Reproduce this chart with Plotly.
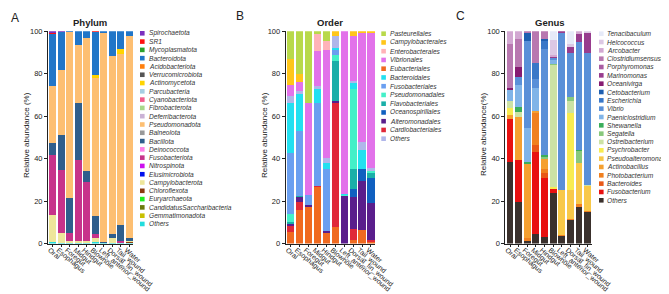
import plotly.graph_objects as go

W, H = 669, 294

categories = ["Oral", "Esophagus", "Foregut", "Midgut", "Hindgut", "Blowhole",
              "Left_anterior_wound", "Dorsal_fin_wound", "Tail_wound", "Water"]
y_ticks = [0, 20, 40, 60, 80, 100]

# ---------------- Panel A: Phylum (values bottom -> top) ----------------
phy_Others = [0.8, 0.3, 0.2, 0.2, 0.2, 0.8, 0.1, 0.3, 0.1, 0.2]
phy_Gemmatimonadota = [0, 0, 0, 0, 0, 0, 0, 0, 0, 0]
phy_CandidatusSaccharibacteria = [0, 0, 0, 0, 0, 0, 0, 0, 0, 0]
phy_Euryarchaeota = [0, 0, 0, 0, 0, 0, 0, 0, 0, 0]
phy_Chloroflexota = [0, 0, 0, 0, 0, 0, 0, 0, 0, 0.8]
phy_Campylobacterota = [12.5, 4.5, 0.8, 0.8, 0.8, 1.7, 0.3, 2.2, 0.2, 0.3]
phy_Elusimicrobiota = [0, 0, 0, 0, 0, 0, 0, 0, 0, 0]
phy_Nitrospinota = [0, 0, 0, 0, 0, 0, 0, 0, 0, 0]
phy_Fusobacteriota = [28.5, 30, 4, 38.5, 28, 2, 0, 0, 1, 0]
phy_Deinococcota = [0, 0, 0, 0, 0, 0, 0, 0, 0, 0]
phy_Bacillota = [5.5, 16.5, 16.5, 26.5, 5, 8.5, 0.5, 2, 7.2, 1.2]
phy_Balneolota = [0, 0, 0, 0, 0, 0, 0, 0, 0, 0]
phy_Pseudomonadota = [26.7, 30.5, 78.1, 27.5, 63, 65, 98.6, 84, 81, 95.5]
phy_Deferribacterota = [0, 0, 0, 0, 0, 0, 0, 0, 0, 0]
phy_Fibrobacterota = [0, 0, 0, 0, 0, 0, 0, 0, 0, 0]
phy_Cyanobacteriota = [0, 0, 0, 0, 0, 0, 0, 0, 0, 0]
phy_Parcubacteria = [0, 0, 0, 0, 0, 0, 0, 0, 0, 0]
phy_Actinomycetota = [0, 0, 0, 0, 0, 1.5, 0, 0, 2, 0]
phy_Verrucomicrobiota = [0, 0, 0, 0, 0, 0, 0, 0, 0, 0]
phy_Acidobacteriota = [0, 0, 0, 0, 0, 0, 0, 0, 0, 0]
phy_Bacteroidota = [25, 17.9, 0.4, 6.5, 3, 20.1, 0.5, 11.5, 8.5, 2]
phy_Mycoplasmatota = [0, 0, 0, 0, 0, 0, 0, 0, 0, 0]
phy_SR1 = [0.3, 0, 0, 0, 0, 0.4, 0, 0, 0, 0]
phy_Spirochaetota = [0.7, 0.3, 0, 0, 0, 0, 0, 0, 0, 0]

phylum_stack = [
    ("Others", phy_Others), ("Gemmatimonadota", phy_Gemmatimonadota),
    ("CandidatusSaccharibacteria", phy_CandidatusSaccharibacteria),
    ("Euryarchaeota", phy_Euryarchaeota), ("Chloroflexota", phy_Chloroflexota),
    ("Campylobacterota", phy_Campylobacterota), ("Elusimicrobiota", phy_Elusimicrobiota),
    ("Nitrospinota", phy_Nitrospinota), ("Fusobacteriota", phy_Fusobacteriota),
    ("Deinococcota", phy_Deinococcota), ("Bacillota", phy_Bacillota),
    ("Balneolota", phy_Balneolota), ("Pseudomonadota", phy_Pseudomonadota),
    ("Deferribacterota", phy_Deferribacterota), ("Fibrobacterota", phy_Fibrobacterota),
    ("Cyanobacteriota", phy_Cyanobacteriota), ("Parcubacteria", phy_Parcubacteria),
    ("Actinomycetota", phy_Actinomycetota), ("Verrucomicrobiota", phy_Verrucomicrobiota),
    ("Acidobacteriota", phy_Acidobacteriota), ("Bacteroidota", phy_Bacteroidota),
    ("Mycoplasmatota", phy_Mycoplasmatota), ("SR1", phy_SR1),
    ("Spirochaetota", phy_Spirochaetota),
]
phylum_legend = [n for n, _ in phylum_stack][::-1]
phylum_colors = {
    "Spirochaetota": "#7B2FBE", "SR1": "#FF1010", "Mycoplasmatota": "#2CA02C",
    "Bacteroidota": "#2176C8", "Acidobacteriota": "#FF7F0E", "Verrucomicrobiota": "#555555",
    "Actinomycetota": "#FFD400", "Parcubacteria": "#A6CEE3", "Cyanobacteriota": "#F25C8C",
    "Fibrobacterota": "#A8D88A", "Deferribacterota": "#CAB2D6", "Pseudomonadota": "#FDBF72",
    "Balneolota": "#999999", "Bacillota": "#2F5E8C", "Deinococcota": "#FF80E8",
    "Fusobacteriota": "#C7338A", "Nitrospinota": "#CC10EE", "Elusimicrobiota": "#0010EE",
    "Campylobacterota": "#EEE69A", "Chloroflexota": "#8B3A0F", "Euryarchaeota": "#22EE22",
    "CandidatusSaccharibacteria": "#6B7A0A", "Gemmatimonadota": "#C8C000", "Others": "#22DDDD",
}

# ---------------- Panel B: Order ----------------
ord_Eubacteriales = [5.5, 16, 17, 26.5, 4.8, 8, 0, 1.5, 6.5, 1]
ord_Cardiobacteriales = [3, 3.5, 0, 0.5, 0, 58.5, 0, 5.5, 0, 0.5]
ord_Alteromonadales = [0.5, 2.5, 1, 0, 1.2, 0.5, 22.5, 15, 23, 17.5]
ord_Oceanospirillales = [0, 0, 0, 0, 0, 0, 0, 3.5, 5.5, 12]
ord_Flavobacteriales = [1, 0.5, 0, 0, 0, 19, 0, 9.5, 0, 2]
ord_Pseudomonadales = [4, 0, 0, 0, 0, 3, 0.5, 38, 0, 1]
ord_Fusobacteriales = [28.5, 30.5, 5, 39, 29, 2, 0, 0, 0, 0]
ord_Bacteroidales = [23.5, 17.5, 0, 7, 3, 1, 0.3, 2.5, 9, 0]
ord_Others = [3.5, 1.5, 0, 1, 2.5, 6, 0, 1, 4, 1.5]
ord_Vibrionales = [5, 4, 43, 16.5, 50.5, 0, 76.7, 21.5, 51, 64]
ord_Enterobacterales = [0, 0, 0, 8, 4.5, 0, 0, 0, 0, 0]
ord_Campylobacterales = [12.5, 4, 0, 0, 0, 2, 0, 2, 1, 0.5]
ord_Pasteurellales = [13, 20, 34, 1.5, 4.5, 0, 0, 0, 0, 0]

order_stack = [
    ("Eubacteriales", ord_Eubacteriales), ("Cardiobacteriales", ord_Cardiobacteriales),
    ("Alteromonadales", ord_Alteromonadales), ("Oceanospirillales", ord_Oceanospirillales),
    ("Flavobacteriales", ord_Flavobacteriales), ("Pseudomonadales", ord_Pseudomonadales),
    ("Fusobacteriales", ord_Fusobacteriales), ("Bacteroidales", ord_Bacteroidales),
    ("Others", ord_Others), ("Vibrionales", ord_Vibrionales),
    ("Enterobacterales", ord_Enterobacterales), ("Campylobacterales", ord_Campylobacterales),
    ("Pasteurellales", ord_Pasteurellales),
]
order_legend = ["Pasteurellales", "Campylobacterales", "Enterobacterales", "Vibrionales",
                "Eubacteriales", "Bacteroidales", "Fusobacteriales", "Pseudomonadales",
                "Flavobacteriales", "Oceanospirillales", "Alteromonadales",
                "Cardiobacteriales", "Others"]
order_colors = {
    "Pasteurellales": "#B8D94A", "Campylobacterales": "#FFC61A", "Enterobacterales": "#FFB3B8",
    "Vibrionales": "#E272EA", "Eubacteriales": "#F06A20", "Bacteroidales": "#22E0F0",
    "Fusobacteriales": "#6A9FF0", "Pseudomonadales": "#44F0C8", "Flavobacteriales": "#1AAFA8",
    "Oceanospirillales": "#1060C0", "Alteromonadales": "#5A1E8C", "Cardiobacteriales": "#E02838",
    "Others": "#B0B6EA",
}

# ---------------- Panel C: Genus ----------------
gen_Others = [38.5, 19.5, 1, 4.5, 3, 24, 3.5, 11, 17, 15]
gen_Fusobacterium = [20, 20, 0, 38.5, 28, 1.5, 0, 0, 0, 0]
gen_Bacteroides = [0, 0, 0, 3.5, 2, 0, 0, 0, 0, 0]
gen_Photobacterium = [0, 0, 1.5, 15, 2, 0, 0.5, 0.5, 1.5, 0.5]
gen_Actinobacillus = [2, 20, 35, 1, 5, 0, 0, 0, 0, 0]
gen_Pseudoalteromonas = [0, 0, 0, 0, 0, 0, 21, 13.5, 19.5, 11.5]
gen_Psychrobacter = [3.5, 0, 0, 0, 0, 1, 0, 36.5, 0, 0]
gen_Ostreibacterium = [3, 2.5, 0, 0, 0, 57.5, 0, 5.5, 0, 0.5]
gen_Segatella = [0, 0, 0, 0, 1, 0.5, 0, 2, 5.5, 0]
gen_Shewanella = [0, 2.5, 1, 0, 0.5, 0, 0, 0, 0.5, 0]
gen_Paeniclostridium = [5.5, 10, 16, 11, 0, 2, 0, 0, 0, 0]
gen_Vibrio = [0, 4, 41, 4, 50, 1, 74.5, 21, 51, 62.5]
gen_Escherichia = [0, 0, 0, 7.5, 4, 0, 0, 0, 0, 0]
gen_Cetobacterium = [0, 0, 4, 0, 1, 0, 0, 0, 0, 0]
gen_Oceanivirga = [1, 4.5, 0, 0, 0, 0, 0, 0, 0, 0]
gen_Marinomonas = [0, 0, 0, 0, 0, 0.5, 0.5, 2.5, 3.5, 9.5]
gen_Porphyromonas = [0, 0, 0, 0, 0, 0, 0, 0, 0, 0]
gen_Clostridiumsensustricto = [20.5, 13.5, 0.5, 15, 3.5, 0, 0, 0, 0, 0]
gen_Arcobacter = [6, 3.5, 0, 0, 0, 1, 0, 0, 1.5, 0]
gen_Helcococcus = [0, 0, 0, 0, 0, 7, 0, 1.5, 0, 0.5]
gen_Tenacibaculum = [0, 0, 0, 0, 0, 4, 0, 6, 0, 0]

genus_stack = [
    ("Others", gen_Others), ("Fusobacterium", gen_Fusobacterium),
    ("Bacteroides", gen_Bacteroides), ("Photobacterium", gen_Photobacterium),
    ("Actinobacillus", gen_Actinobacillus), ("Pseudoalteromonas", gen_Pseudoalteromonas),
    ("Psychrobacter", gen_Psychrobacter), ("Ostreibacterium", gen_Ostreibacterium),
    ("Segatella", gen_Segatella), ("Shewanella", gen_Shewanella),
    ("Paeniclostridium", gen_Paeniclostridium), ("Vibrio", gen_Vibrio),
    ("Escherichia", gen_Escherichia), ("Cetobacterium", gen_Cetobacterium),
    ("Oceanivirga", gen_Oceanivirga), ("Marinomonas", gen_Marinomonas),
    ("Porphyromonas", gen_Porphyromonas), ("Clostridiumsensustricto", gen_Clostridiumsensustricto),
    ("Arcobacter", gen_Arcobacter), ("Helcococcus", gen_Helcococcus),
    ("Tenacibaculum", gen_Tenacibaculum),
]
genus_legend = [n for n, _ in genus_stack][::-1]
genus_colors = {
    "Tenacibaculum": "#E6EAF8", "Helcococcus": "#DCC8E4", "Arcobacter": "#D2A8D2",
    "Clostridiumsensustricto": "#B878B0", "Porphyromonas": "#A85CA2", "Marinomonas": "#983C8E",
    "Oceanivirga": "#861C72", "Cetobacterium": "#1F5FB0", "Escherichia": "#3A78C8",
    "Vibrio": "#5A90D8", "Paeniclostridium": "#80B4E8", "Shewanella": "#3AAE5A",
    "Segatella": "#88C87C", "Ostreibacterium": "#CCE2A4", "Psychrobacter": "#F8EC50",
    "Pseudoalteromonas": "#F8C848", "Actinobacillus": "#F5A030", "Photobacterium": "#F08020",
    "Bacteroides": "#E85818", "Fusobacterium": "#E81010", "Others": "#3A302C",
}

FONT = "Arial, Liberation Sans, sans-serif"
TXT = "#222222"

def px_x(p):
    return p / W

def px_y(p):
    return 1 - p / H

panels = [
    dict(stack=phylum_stack, legend=phylum_legend, colors=phylum_colors,
         xdom=(40, 125), title="Phylum", tx=82, letter="A", lx=7, ly=10,
         ytitle="Relative abundance (%)", ytx=19,
         sq=132, tx_leg=139.5, leg_y0=25.3, leg_dy=8.29),
    dict(stack=order_stack, legend=order_legend, colors=order_colors,
         xdom=(277.7, 367), title="Order", tx=322, letter="B", lx=232, ly=8,
         ytitle="Relative abundance (%)", ytx=257,
         sq=373.3, tx_leg=381, leg_y0=25.7, leg_dy=8.75),
    dict(stack=genus_stack, legend=genus_legend, colors=genus_colors,
         xdom=(497.3, 583.5), title="Genus", tx=542, letter="C", lx=452, ly=8,
         ytitle="Relative abundance(%)", ytx=476,
         sq=591, tx_leg=597.5, leg_y0=25.7, leg_dy=8.33),
]

fig = go.Figure()
annotations = []
shapes = []
ydom = (px_y(235.5), px_y(23.3))

for i, p in enumerate(panels):
    k = "" if i == 0 else str(i + 1)
    for name, vals in p["stack"]:
        fig.add_trace(go.Bar(
            x=categories, y=vals, name=name, xaxis="x" + k, yaxis="y" + k,
            marker=dict(color=p["colors"][name], line=dict(width=0)),
            showlegend=False,
        ))
    axis_common = dict(showline=True, linecolor=TXT, linewidth=1, ticks="outside",
                       tickcolor=TXT, tickwidth=1, showgrid=False, zeroline=False,
                       automargin=False)
    fig.update_layout(**{
        "xaxis" + k: dict(domain=[px_x(p["xdom"][0]), px_x(p["xdom"][1])],
                          anchor="y" + k, type="category", range=[-0.55, 9.45],
                          tickmode="array", tickvals=categories, ticktext=categories,
                          tickangle=40, ticklen=2, ticklabelshift=-3, ticklabelstandoff=-3,
                          tickfont=dict(family=FONT, size=7, color=TXT), **axis_common),
        "yaxis" + k: dict(domain=list(ydom), anchor="x" + k, range=[0, 100],
                          tickvals=y_ticks, ticklen=3,
                          tickfont=dict(family=FONT, size=7.5, color=TXT), **axis_common),
    })
    # title, panel letter, y title
    annotations.append(dict(text="<b>" + p["title"] + "</b>", x=px_x(p["tx"]), y=px_y(14),
                            xref="paper", yref="paper", showarrow=False,
                            font=dict(family=FONT, size=9.5, color=TXT),
                            xanchor="center", yanchor="middle"))
    annotations.append(dict(text=p["letter"], x=px_x(p["lx"]), y=px_y(p["ly"]),
                            xref="paper", yref="paper", showarrow=False,
                            font=dict(family=FONT, size=12, color=TXT),
                            xanchor="center", yanchor="middle"))
    annotations.append(dict(text=p["ytitle"], x=px_x(p["ytx"]), y=px_y(127),
                            xref="paper", yref="paper", showarrow=False, textangle=-90,
                            font=dict(family=FONT, size=8, color=TXT),
                            xanchor="center", yanchor="middle"))
    # manual legend
    for j, name in enumerate(p["legend"]):
        cy = p["leg_y0"] + j * p["leg_dy"]
        shapes.append(dict(type="rect", xref="paper", yref="paper",
                           x0=px_x(p["sq"]), x1=px_x(p["sq"] + 4.6),
                           y0=px_y(cy + 2.3), y1=px_y(cy - 2.3),
                           fillcolor=p["colors"][name], line=dict(width=0)))
        annotations.append(dict(text=name, x=px_x(p["tx_leg"]), y=px_y(cy),
                                xref="paper", yref="paper", showarrow=False, borderpad=0,
                                font=dict(family=FONT, size=6.6, color="#333333", style="italic"),
                                xanchor="left", yanchor="middle"))

fig.update_layout(
    width=W, height=H, margin=dict(l=0, r=0, t=0, b=0),
    barmode="stack", bargap=0.2,
    plot_bgcolor="white", paper_bgcolor="white",
    annotations=annotations, shapes=shapes,
    font=dict(family=FONT, color=TXT),
)

fig.write_html("out.html")
